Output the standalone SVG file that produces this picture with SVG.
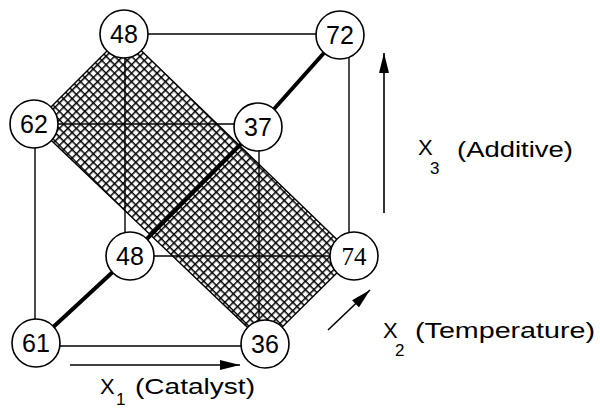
<svg xmlns="http://www.w3.org/2000/svg" width="600" height="410" viewBox="0 0 600 410">
<defs>
<pattern id="hatch" patternUnits="userSpaceOnUse" width="6" height="6" patternTransform="rotate(45)">
<rect width="6" height="6" fill="#fff"/>
<path d="M0 0.75H6M0.75 0V6" stroke="#000" stroke-width="1.5" fill="none"/>
</pattern>
<marker id="ah" viewBox="0 0 20 10" refX="20" refY="5" markerWidth="20" markerHeight="10" markerUnits="userSpaceOnUse" orient="auto">
<path d="M0 0L20 5L0 10Z" fill="#000"/>
</marker>
</defs>
<style>
.edge{stroke:#000;stroke-width:1.4;fill:none}
.thick{stroke:#000;stroke-width:4;fill:none}
.axis{stroke:#000;stroke-width:1.6;fill:none}
.node circle{fill:#fff;stroke:#000;stroke-width:1.6}
.node text{font-family:"Liberation Sans",Arial,sans-serif;font-size:25px;text-anchor:middle;fill:#000}
.lbl{font-family:"Liberation Sans",Arial,sans-serif;font-size:22px;fill:#000}
.sub{font-family:"Liberation Sans",Arial,sans-serif;font-size:17px;fill:#000}
</style>
<rect width="600" height="410" fill="#fff"/>
<polygon id="plane" points="124,34 34,124 265,344 354,256" fill="url(#hatch)" stroke="#000" stroke-width="1.4"/>
<g id="connectors">
<line class="edge" x1="124" y1="34" x2="340" y2="34"/>
<line class="edge" x1="349" y1="40" x2="349" y2="250"/>
<line class="edge" x1="34" y1="124" x2="258" y2="124"/>
<line class="edge" x1="35" y1="124" x2="35" y2="343"/>
<line class="edge" x1="259" y1="127" x2="259" y2="344"/>
<line class="edge" x1="125" y1="34" x2="125" y2="256"/>
<line class="edge" x1="130" y1="256" x2="354" y2="256"/>
<line class="edge" x1="36" y1="346" x2="265" y2="346"/>
<polyline class="thick" points="36,343 130,256 258,127 340,35"/>
<line class="axis" x1="70" y1="365" x2="240" y2="365" marker-end="url(#ah)"/>
<line class="axis" x1="384" y1="213" x2="384" y2="53" marker-end="url(#ah)"/>
<line class="axis" x1="328" y1="330" x2="370" y2="290" marker-end="url(#ah)"/>
</g>
<g id="n48a" class="node"><circle cx="124" cy="34" r="24"/><text x="124" y="43">48</text></g>
<g id="n72" class="node"><circle cx="340" cy="35" r="24"/><text x="340" y="44">72</text></g>
<g id="n62" class="node"><circle cx="34" cy="124" r="24"/><text x="34" y="133">62</text></g>
<g id="n37" class="node"><circle cx="258" cy="127" r="24"/><text x="258" y="136">37</text></g>
<g id="n48b" class="node"><circle cx="130" cy="256" r="24"/><text x="130" y="265">48</text></g>
<g id="n74" class="node"><circle cx="354" cy="256" r="24"/><text x="354" y="265" style="font-family:'Liberation Serif',serif">74</text></g>
<g id="n61" class="node"><circle cx="36" cy="343" r="24"/><text x="36" y="352">61</text></g>
<g id="n36" class="node"><circle cx="265" cy="344" r="24"/><text x="265" y="353">36</text></g>
<g id="labels">
<text class="lbl" x="100" y="394">X</text><text class="sub" x="116" y="405">1</text><text class="lbl" x="135" y="394" textLength="120" lengthAdjust="spacingAndGlyphs">(Catalyst)</text>
<text class="lbl" x="418" y="155">X</text><text class="sub" x="430" y="174">3</text><text class="lbl" x="457" y="157" textLength="116" lengthAdjust="spacingAndGlyphs">(Additive)</text>
<text class="lbl" x="383" y="338">X</text><text class="sub" x="395" y="356">2</text><text class="lbl" x="415" y="338" textLength="180" lengthAdjust="spacingAndGlyphs">(Temperature)</text>
</g>
</svg>
